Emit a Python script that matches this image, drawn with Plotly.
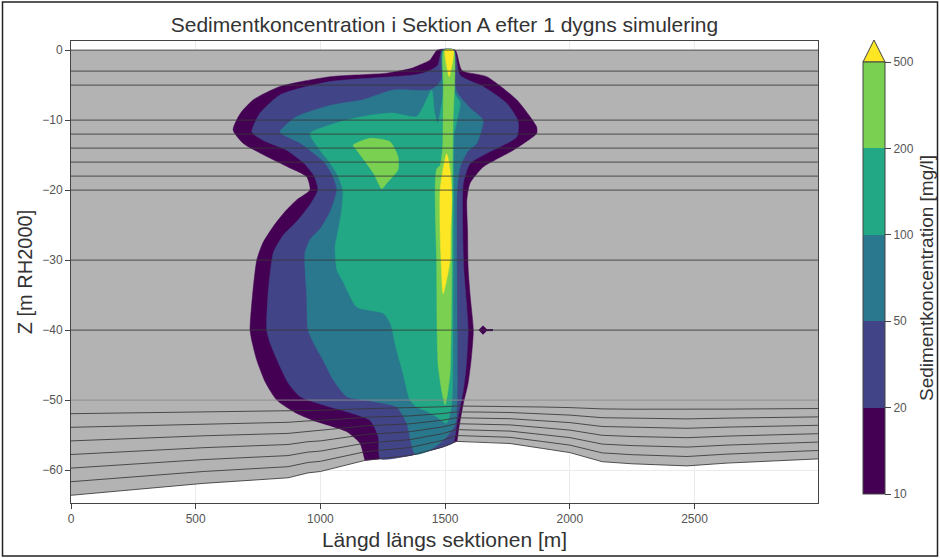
import numpy as np
import plotly.graph_objects as go

# ---- Section geometry ----
X_MAX = 2995
bed_x = [0, 250, 530, 870, 950, 1000, 1180, 1360, 1490, 1545, 1650, 1760, 1890, 2000, 2130, 2250, 2470, 2630, 2995]
bed_z = [-63.6, -62.8, -61.9, -61.1, -60.4, -60.2, -58.6, -57.9, -56.7, -55.9, -56.0, -56.2, -56.9, -57.5, -58.8, -59.1, -59.4, -59.0, -58.4]

# z-layer interfaces (fixed levels) and sigma layers between -50 m and the bed
z_levels = [0, -3, -5, -10, -12, -14, -16, -18, -20, -30, -40]
sigma_top = -50
sigma_fractions = [1 / 7, 2 / 7, 3 / 7, 4 / 7, 5 / 7, 6 / 7]

# ---- Concentration isolines [x (m), z (m)]; None = point on the bed ----
levels = [10, 20, 50, 100, 200, 500]
colors = ["#440154", "#414487", "#2a788e", "#22a884", "#7ad151", "#fde725"]

c10_x = [1179, 1159, 1105, 971, 900, 825, 780, 745, 728, 718, 728, 745, 770, 811, 860, 905, 958, 945, 870, 785, 690, 650,
         680, 731, 838, 1039, 1266, 1366, 1400, 1440, 1469, 1540, 1567, 1667, 1787, 1840, 1867, 1867, 1820, 1773, 1700,
         1652, 1600, 1587, 1590, 1592, 1600, 1613, 1605, 1592, 1573, 1555, 1547]
c10_z = [None, -56.2, -54.5, -52.9, -51.8, -50, -47.5, -44.3, -42, -40, -35, -30, -27.5, -25.2, -23, -21.4, -20, -18.1, -16.7,
         -15.2, -13.3, -11.4, -9, -7.1, -5.2, -3.8, -3.3, -2.6, -2.1, -1.4, 0, 0, -2.9, -3.8, -7.1, -9.5, -11, -11.9, -13.2,
         -14.3, -15.7, -16.7, -19, -21.4, -26, -31, -35, -40, -44, -47.6, -50.5, -54, None]

c20_x = [1240, 1232, 1199, 1100, 1039, 918, 870, 838, 800, 785, 790, 811, 850, 905, 960, 990, 975, 935, 865, 771, 725,
         758, 838, 1039, 1366, 1420, 1470, 1488, 1536, 1560, 1652, 1747, 1793, 1787, 1680, 1600, 1573, 1570, 1575, 1585,
         1592, 1585, 1573, 1547, 1533]
c20_z = [None, -55.2, -52.9, -51.6, -51, -49.5, -47.5, -45.2, -42, -40, -35, -29, -26.5, -24.5, -22, -20, -18, -16.2,
         -14.3, -12.9, -11.7, -9, -6.4, -4.5, -3.6, -3.2, -2.2, 0, 0, -3.6, -5.2, -7.6, -10.2, -12.4, -14.5, -16.2, -19,
         -25, -31.4, -36, -40, -45, -48.6, -53.3, None]

c50_x = [1380, 1346, 1306, 1213, 1105, 1050, 1011, 975, 951, 945, 938, 960, 1000, 1040, 1066, 1050, 1015, 920, 838,
         905, 1039, 1171, 1291, 1440, 1470, 1488, 1489, 1535, 1537, 1547, 1600, 1652, 1627, 1590, 1560, 1548, 1548,
         1540, 1500, 1440]
c50_z = [None, -53.3, -51, -50.2, -49.5, -47, -44.3, -42, -40, -35, -29, -27, -25.5, -23, -20, -18, -16, -13.3, -11.7,
         -9.5, -7.9, -7.1, -5.7, -5.7, -5.0, -4, 0, 0, -4, -6, -8.3, -10, -13.3, -14.5, -16.7, -20, -50, -53.5, -55.5,
         None]

c100_x = [1492, 1534, 1536, 1560, 1548, 1536, 1534, 1532, 1530, 1525, 1506, 1466, 1420, 1386, 1359, 1330, 1306, 1280,
          1252, 1146, 1090, 1066, 1059, 1066, 1085, 1090, 1065, 1025, 998, 958, 1030, 1105, 1200, 1291, 1386, 1420,
          1446, 1458, 1470, 1485, 1492]
c100_z = [0, 0, -6, -7.5, -10, -12, -20, -35, -48, -51, -53.3, -52.4, -51.5, -51, -50, -46, -42.9, -39, -37.6, -36.7,
          -33, -31.4, -28, -26.7, -23, -20, -17.6, -15.5, -14.3, -11.9, -10.8, -10, -9.3, -9, -9.5, -7.5, -5.7, -9,
          -10.5, -8, -6]

c200_x = [1495, 1533, 1532, 1530, 1528, 1527, 1524, 1520, 1510, 1500, 1488, 1472, 1468, 1466, 1462, 1460, 1466, 1480,
          1490, 1492, 1493]
c200_z = [0, 0, -10, -15, -22, -30, -40, -46, -49, -50.7, -49, -45, -40, -30, -25, -20, -17, -16.5, -14, -10, -5]
c200b_x = [1131, 1199, 1279, 1311, 1311, 1266, 1246, 1213, 1146]
c200b_z = [-13.6, -12.6, -13.1, -15.2, -17.1, -19, -19.8, -17.6, -14.3]

c500_x = [1500, 1533, 1528, 1516, 1505]
c500_z = [0, 0, -2, -3.8, -2]
c500b_x = [1506, 1515, 1522, 1527, 1522, 1520, 1505, 1492, 1485, 1480, 1480, 1492]
c500b_z = [-14.8, -16, -18, -21, -26, -30, -33, -34.8, -31, -26, -20, -17]

# small isolated patch above the 10 mg/l threshold
spot_x = [1652]
spot_z = [-40]

GRAY = "#b3b3b3"
LINE = "rgba(55,55,55,0.85)"


def bed_at(x):
    return float(np.interp(x, bed_x, bed_z))


def band_polygon(cx, cz):
    """Close an isoline chain; chains with None end-points are closed along the bed."""
    cx, cz = list(cx), list(cz)
    if cz[0] is None:
        x0, x1 = cx[0], cx[-1]
        cz[0], cz[-1] = bed_at(x0), bed_at(x1)
        inner = [(bx, bz) for bx, bz in zip(bed_x, bed_z) if x0 < bx < x1][::-1]
        return cx + [p[0] for p in inner] + [x0], cz + [p[1] for p in inner] + [cz[0]]
    return cx + [cx[0]], cz + [cz[0]]


fig = go.Figure()

# water domain between surface and bed
dom_x = [0, X_MAX] + bed_x[::-1] + [0]
dom_z = [0, 0] + bed_z[::-1] + [0]
fig.add_trace(go.Scatter(x=dom_x, y=dom_z, fill="toself", fillcolor=GRAY, mode="lines",
                         line=dict(width=0), hoverinfo="skip", showlegend=False))

# filled concentration bands, lowest level first
bands = [
    (c10_x, c10_z, colors[0]),
    (c20_x, c20_z, colors[1]),
    (c50_x, c50_z, colors[2]),
    (c100_x, c100_z, colors[3]),
    (c200_x, c200_z, colors[4]),
    (c200b_x, c200b_z, colors[4]),
    (c500_x, c500_z, colors[5]),
    (c500b_x, c500b_z, colors[5]),
]
for bx, bz, col in bands:
    px, pz = band_polygon(bx, bz)
    fig.add_trace(go.Scatter(x=px, y=pz, fill="toself", fillcolor=col, mode="lines",
                             line=dict(width=0.5, color=col, shape="spline", smoothing=0.6),
                             hoverinfo="skip", showlegend=False))

fig.add_trace(go.Scatter(x=spot_x, y=spot_z, mode="markers",
                         marker=dict(symbol="diamond", size=7, color=colors[0]),
                         hoverinfo="skip", showlegend=False))
fig.add_trace(go.Scatter(x=[spot_x[0], spot_x[0] + 40], y=[spot_z[0], spot_z[0]], mode="lines",
                         line=dict(color=colors[0], width=2), hoverinfo="skip", showlegend=False))

# layer interfaces
lx, lz = [], []
for z in z_levels:
    lx += [0, X_MAX, None]
    lz += [z, z, None]
for f in sigma_fractions:
    lx += list(bed_x) + [None]
    lz += [sigma_top + f * (b - sigma_top) for b in bed_z] + [None]
lx += list(bed_x)
lz += list(bed_z)
fig.add_trace(go.Scatter(x=lx, y=lz, mode="lines", line=dict(color=LINE, width=1),
                         hoverinfo="skip", showlegend=False))
fig.add_trace(go.Scatter(x=[0, X_MAX], y=[sigma_top, sigma_top], mode="lines",
                         line=dict(color="rgba(140,140,140,0.9)", width=1),
                         hoverinfo="skip", showlegend=False))

PL, PR, PT, PB = 71, 818, 41, 503
W, H = 940, 558


def px2paper(px, py):
    return (px - PL) / (PR - PL), (PB - py) / (PB - PT)


# colour bar (discrete bands)
n = len(levels) - 1
cscale = []
for i in range(n):
    cscale += [[i / n, colors[i]], [(i + 1) / n, colors[i]]]
cbx, cby = px2paper(863, 278)
fig.add_trace(go.Scatter(
    x=[None], y=[None], mode="markers", hoverinfo="skip", showlegend=False,
    marker=dict(color=[0], cmin=0, cmax=n, colorscale=cscale, showscale=True,
                colorbar=dict(
                    x=cbx, xanchor="left", xref="paper", xpad=0,
                    y=cby, yanchor="middle", yref="paper", ypad=0,
                    thickness=22, thicknessmode="pixels",
                    len=432, lenmode="pixels",
                    tickvals=list(range(len(levels))), ticktext=[str(v) for v in levels],
                    ticks="outside", ticklen=6, tickcolor="#444",
                    tickfont=dict(size=12, color="#555"),
                    outlinecolor="#444", outlinewidth=1,
                    title=dict(text="Sedimentkoncentration [mg/l]", side="right",
                               font=dict(size=19, color="#333")),
                ))))

# extension triangle above the colour bar
ax0, ayb = px2paper(863, 62)
ax1, _ = px2paper(885, 62)
axm, ayt = px2paper(874, 40)
shapes = [dict(type="path", xref="paper", yref="paper",
               path=f"M {ax0},{ayb} L {ax1},{ayb} L {axm},{ayt} Z",
               fillcolor=colors[5], line=dict(color="#444", width=1))]
bx0, by0 = px2paper(2.5, 556)
bx1, by1 = px2paper(937.5, 2)
shapes.append(dict(type="rect", xref="paper", yref="paper", x0=bx0, y0=by0, x1=bx1, y1=by1,
                   line=dict(color="#222", width=1.5)))

FONT = "Liberation Sans, Arial, sans-serif"
fig.update_layout(
    width=W, height=H,
    margin=dict(l=PL, r=W - PR, t=PT, b=H - PB, autoexpand=False),
    paper_bgcolor="white", plot_bgcolor="white",
    font=dict(family=FONT, color="#444"),
    title=dict(text="Sedimentkoncentration i Sektion A efter 1 dygns simulering",
               x=444.5 / W, xanchor="center", y=1 - 25 / H, yanchor="middle", yref="container",
               font=dict(size=21, color="#333")),
    shapes=shapes,
    xaxis=dict(range=[0, X_MAX], tickvals=[0, 500, 1000, 1500, 2000, 2500],
               showgrid=True, gridcolor="#ebebeb", zeroline=False,
               showline=True, mirror=True, linecolor="#444", linewidth=1,
               ticks="outside", ticklen=5, tickcolor="#444",
               tickfont=dict(size=12, color="#555"),
               title=dict(text="Längd längs sektionen [m]", font=dict(size=21, color="#333"), standoff=6)),
    yaxis=dict(range=[-64.7, 1.3], tickvals=[0, -10, -20, -30, -40, -50, -60],
               showgrid=True, gridcolor="#ebebeb", zeroline=False,
               showline=True, mirror=True, linecolor="#444", linewidth=1,
               ticks="outside", ticklen=5, tickcolor="#444",
               tickfont=dict(size=12, color="#555"),
               title=dict(text="Z [m RH2000]", font=dict(size=20, color="#333"), standoff=4)),
)

fig.write_html("out.html")
